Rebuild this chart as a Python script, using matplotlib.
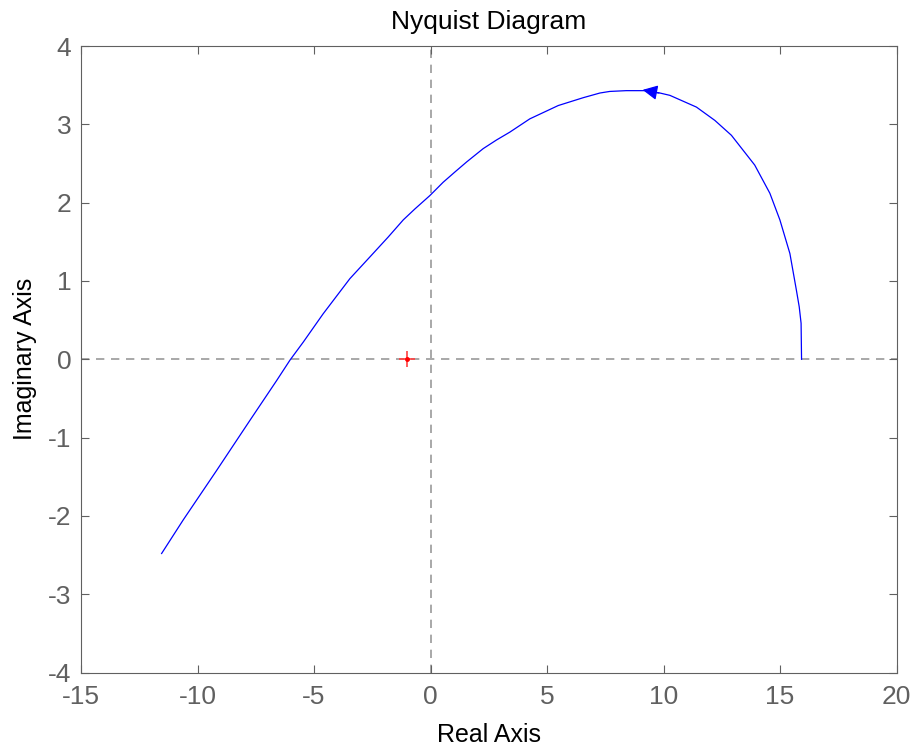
import numpy as np
from matplotlib import pyplot as plt

plt.rcParams['font.family'] = ['Liberation Sans', 'DejaVu Sans']
plt.rcParams['axes.unicode_minus'] = False

# Nyquist curve (from omega=0 outwards)
re_vals = [15.92, 15.9, 15.82, 15.7, 15.42, 14.99, 14.56, 13.91, 12.91, 12.2,
           11.41, 10.27, 9.84, 9.2, 8.4, 7.69, 7.27, 6.55, 5.48, 4.26,
           3.4, 2.83, 2.26, 1.55, 1.04, 0.54, -0.03, -0.67, -1.17, -1.82,
           -2.53, -3.46, -4.61, -5.46, -6.03, -6.6, -7.75, -9.18, -10.61, -11.54]
im_vals = [0.0, 0.46, 0.67, 0.88, 1.35, 1.78, 2.12, 2.48, 2.86, 3.05,
           3.22, 3.37, 3.4, 3.43, 3.43, 3.42, 3.4, 3.34, 3.24, 3.07,
           2.9, 2.8, 2.69, 2.52, 2.39, 2.26, 2.09, 1.92, 1.78, 1.56,
           1.33, 1.03, 0.58, 0.22, -0.01, -0.27, -0.78, -1.42, -2.05, -2.48]
x_ticks = [-15, -10, -5, 0, 5, 10, 15, 20]
y_ticks = [-4, -3, -2, -1, 0, 1, 2, 3, 4]
crit_pt = (-1, 0)
arrow_tip = (9.1, 3.44)
arrow_tail = (9.8, 3.40)

fig = plt.figure(figsize=(9.14, 7.47), dpi=100)
ax = fig.add_axes([0.0886, 0.0997, 0.8924, 0.8387])

ax.axhline(0, color='#999999', ls=(0, (5, 4)), lw=1.2, zorder=1)
ax.axvline(0, color='#999999', ls=(0, (5, 4)), lw=1.2, zorder=1)

ax.plot(re_vals, im_vals, color='#0000ff', lw=0.9, zorder=3)
ax.annotate('', xy=arrow_tip, xytext=arrow_tail,
            arrowprops=dict(arrowstyle='-|>,head_length=0.9,head_width=0.45',
                            color='#0000ff', lw=0.9, shrinkA=0, shrinkB=0),
            zorder=4)
ax.plot(*crit_pt, marker='+', color='#ff4040', ms=12, mew=1.2, zorder=4)
ax.plot(*crit_pt, marker='.', color='red', ms=5, zorder=4)

ax.set_xlim(-15, 20)
ax.set_ylim(-4, 4)
ax.set_xticks(x_ticks)
ax.set_yticks(y_ticks)
ax.tick_params(direction='in', top=True, right=True, colors='#606060',
               labelsize=19, length=6)
ax.tick_params(axis='x', pad=9)
ax.tick_params(axis='y', pad=7)
for s in ax.spines.values():
    s.set_color('#606060')

ax.set_title('Nyquist Diagram', fontsize=19, pad=12)
ax.set_xlabel('Real Axis', fontsize=18, labelpad=10)
ax.set_ylabel('Imaginary Axis', fontsize=18, labelpad=8)

fig.savefig('out.png', dpi=100)
